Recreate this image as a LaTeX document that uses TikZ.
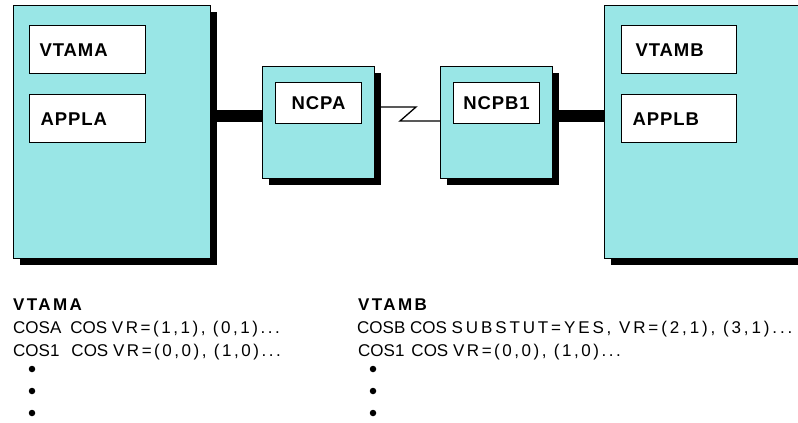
\documentclass[tikz,border=0pt]{standalone}
\usepackage{fontspec}
\setmainfont{Liberation Sans}
\newfontfamily\trk[LetterSpace=15]{Liberation Sans}
\newfontfamily\trkwide[LetterSpace=17]{Liberation Sans}
\newfontfamily\lblfont[LetterSpace=5]{Liberation Sans}
\newfontfamily\hdrfont[LetterSpace=14]{Liberation Sans}
\usetikzlibrary{shadows}
\definecolor{hostfill}{RGB}{153,230,230}
\begin{document}
\begin{tikzpicture}[x=1pt,y=-1pt,
  box/.style={draw=black, line width=1.2pt, fill=hostfill, inner sep=0pt, anchor=north west,
    drop shadow={shadow xshift=6.5pt, shadow yshift=-6.5pt, fill=black, opacity=1}},
  lblbox/.style={draw=black, line width=1.2pt, fill=white, inner ysep=0pt, anchor=north west,
    font=\lblfont\bfseries\fontsize{18.5}{20}\selectfont, text height=13.2pt, text depth=0pt},
  thickconn/.style={line width=12pt, black},
  thinconn/.style={line width=1.3pt, black},
  hdrtxt/.style={anchor=base west, inner sep=0pt, font=\hdrfont\bfseries\fontsize{17}{19}\selectfont},
  bodytxt/.style={anchor=base west, inner sep=0pt, font=\fontsize{17}{19}\selectfont},
  bulletdot/.style={circle, fill=black, inner sep=0pt, minimum size=6.5pt}
]
\useasboundingbox (0,0) rectangle (798,423);
\clip (0,0) rectangle (798,423);

% hosts and NCPs
\node[box, minimum width=197pt, minimum height=253pt] (hostA) at (13,5) {};
\node[box, minimum width=215pt, minimum height=253pt] (hostB) at (604,5) {};
\node[box, minimum width=112pt, minimum height=112pt] (ncpa) at (262,66) {};
\node[box, minimum width=112pt, minimum height=112pt] (ncpb) at (440,66) {};

% label boxes
\node[lblbox, text width=96pt, inner xsep=10pt, align=left, minimum height=48pt] (vtama) at (29,25) {VTAMA};
\node[lblbox, text width=94pt, inner xsep=11pt, align=left, minimum height=48pt] (appla) at (29,94) {APPLA};
\node[lblbox, text width=87pt, inner xsep=14pt, align=left, minimum height=48pt] (vtamb) at (621,25) {VTAMB};
\node[lblbox, text width=93pt, inner xsep=11pt, align=left, minimum height=48pt] (applb) at (621,94) {APPLB};
\node[lblbox, minimum width=86pt, minimum height=41pt, inner xsep=0pt] (ncpal) at (275,82) {NCPA};
\node[lblbox, minimum width=86pt, minimum height=41pt, inner xsep=0pt] (ncpbl) at (453,82) {NCPB1};

% connectors
\coordinate (linkY) at (0,116);
\coordinate (zigTop) at (416,107);
\coordinate (zigBot) at (400,121);
\draw[thickconn] (hostA.east |- linkY) -- (ncpa.west |- linkY);
\draw[thickconn] (ncpb.east |- linkY) -- (hostB.west |- linkY);
\draw[thinconn] (ncpa.east |- zigTop) -- (zigTop) -- (zigBot) -- (ncpb.west |- zigBot);

% definitions text
\node[hdrtxt] (hdA) at (13,310) {VTAMA};
\node[bodytxt] (a1) at (13,333) {COSA\hspace{9pt}COS {\trk VR=(1,1), (0,1)...}};
\node[bodytxt] (a2) at (13,356) {COS1\hspace{12pt}COS {\trk VR=(0,0), (1,0)...}};
\node[bulletdot] (ab1) at (32,369) {};
\node[bulletdot] (ab2) at (32,391) {};
\node[bulletdot] (ab3) at (32,413) {};

\node[hdrtxt] (hdB) at (358,310) {VTAMB};
\node[bodytxt] (b1) at (357,333) {COSB COS {\trkwide SUBSTUT=YES, VR=(2,1), (3,1)...}};
\node[bodytxt] (b2) at (358,356) {COS1\hspace{7pt}COS {\trk VR=(0,0), (1,0)...}};
\node[bulletdot] (bb1) at (373,369) {};
\node[bulletdot] (bb2) at (373,391) {};
\node[bulletdot] (bb3) at (373,413) {};
\end{tikzpicture}
\end{document}
